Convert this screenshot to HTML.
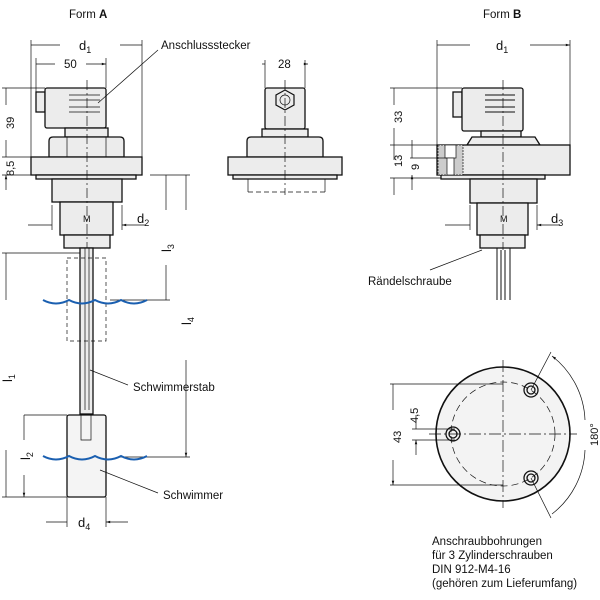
<!DOCTYPE html>
<html><head><style>body{margin:0;background:#fff}svg{display:block}text{font-family:"Liberation Sans",sans-serif;fill:#111}</style></head><body>
<svg width="600" height="600" viewBox="0 0 600 600" xmlns="http://www.w3.org/2000/svg">
<defs><marker id="a" viewBox="0 0 10 10" refX="10" refY="5" markerWidth="8" markerHeight="6" orient="auto-start-reverse"><path d="M0,2L10,5L0,8z" fill="#111"/></marker></defs>
<g stroke="#111" fill="none" stroke-width="0.7">
<!-- Form A -->
<g fill="#ececec" stroke-width="1.3">
<rect x="36" y="92" width="9" height="20"/>
<rect x="45" y="88" width="61" height="40" rx="2"/>
<rect x="65" y="128" width="43" height="9"/>
<path d="M49,157V141Q49,137 53,137H120Q124,137 124,141V157z"/>
<rect x="31" y="157" width="111" height="18"/>
<rect x="36" y="175" width="100" height="4"/>
<rect x="52" y="179" width="70" height="23"/>
<rect x="60" y="202" width="53" height="33"/>
<rect x="64" y="235" width="46" height="13"/>
<rect x="80" y="248" width="13" height="166"/>
<rect x="67" y="415" width="39" height="82" rx="2" fill="#f4f4f4"/>
</g>
<path d="M69,95H100M69,100H100M69,107H100M69,112H100M67,137V157M106,137V157M85,248V410M89,248V410M81,415V440H91V415" />
<rect x="67" y="258" width="39" height="83" stroke-dasharray="4,3"/>
<path d="M87,80V248" stroke-dasharray="10,3,2,3"/>
<!-- Middle view -->
<g fill="#ececec" stroke-width="1.3">
<rect x="265" y="88" width="40" height="41" rx="2"/>
<rect x="262" y="129" width="46" height="8"/>
<path d="M247,157V141Q247,137 251,137H319Q323,137 323,141V157z"/>
<rect x="228" y="157" width="114" height="18"/>
<rect x="233" y="175" width="104" height="4"/>
</g>
<polygon points="285,90 294,95 294,105 285,110 276,105 276,95" stroke-width="1.2"/>
<circle cx="285" cy="100" r="5"/>
<path d="M248,179V192M325,179V192"/>
<path d="M248,192H325" stroke-dasharray="5,3"/>
<path d="M285,80V195" stroke-dasharray="10,3,2,3"/>
<path d="M262,64H265M305,64H308" marker-end="url(#a)"/><path d="M265,60V88M305,60V88"/>
<!-- Form B -->
<g fill="#ececec" stroke-width="1.3">
<rect x="453" y="92" width="9" height="25"/>
<rect x="462" y="88" width="61" height="43" rx="2"/>
<rect x="481" y="131" width="40" height="6"/>
<path d="M467,145L472,137H535L540,145z"/>
<rect x="437" y="145" width="133" height="30"/>
<rect x="441" y="175" width="104" height="4"/>
<rect x="470" y="179" width="67" height="24"/>
<rect x="477" y="203" width="51" height="32"/>
<rect x="480" y="235" width="45" height="13"/>
</g>
<rect x="438" y="145" width="25" height="30" fill="#ccc" stroke-dasharray="2,1"/>
<rect x="445" y="145" width="11" height="13" fill="#fff"/>
<rect x="447" y="158" width="7" height="17" fill="#fff"/>
<path d="M485,95H515M485,100H515M485,107H515M485,112H515M497,248V300M510,248V300M501,250V300M505,250V300" stroke-width="1"/>
<path d="M503,80V250" stroke-dasharray="10,3,2,3"/>
<!-- bottom circle -->
<circle cx="503" cy="434" r="67" fill="#f3f3f3" stroke-width="1.6"/>
<circle cx="503" cy="434" r="52" stroke-dasharray="7,4"/>
<g stroke-width="1.3"><circle cx="453" cy="434" r="7"/><circle cx="453" cy="434" r="4"/><circle cx="531" cy="390" r="7"/><circle cx="531" cy="390" r="4"/><circle cx="531" cy="478" r="7"/><circle cx="531" cy="478" r="4"/></g>
<path d="M429,434H577M503,360V508" stroke-dasharray="12,3,2,3"/>
<path d="M390,384H503M390,485H503M412,429H455M412,440H455"/>
<path d="M393,410V384M393,460V485" marker-end="url(#a)"/>
<path d="M416,415V429M416,455V440" marker-end="url(#a)"/>
<path d="M531,390L551,352M531,478L551,518"/>
<path d="M552,356A85,85 0 0 1 585,420M585,450A85,85 0 0 1 552,514" marker-start="url(#a)"/>
<!-- dims A -->
<path d="M31,40V157M142,40V157M36,58V92M106,58V88"/>
<path d="M60,45H31M120,45H142M55,64H36M86,64H106" marker-end="url(#a)"/>
<path d="M2,88H45M2,157H31M2,175H52M24,415H67M2,497H67M2,253H80M150,175H190" />
<path d="M6,105V88M6,140V157M6,150V157M6,190V175" marker-end="url(#a)"/>
<path d="M6,300V253M6,450V497M24,440V415M24,475V497" marker-end="url(#a)"/>
<path d="M166,210V175M166,265V300M186,210V175M186,360V457" marker-end="url(#a)"/>
<path d="M110,300H170M120,457H190"/>
<path d="M28,225H52M145,225H122" marker-end="url(#a)"/><path d="M52,205V230M122,205V230"/>
<path d="M46,522H67M128,522H106" marker-end="url(#a)"/><path d="M67,497V527M106,497V527"/>
<!-- dims B -->
<path d="M437,40V145M570,40V175"/>
<path d="M470,45H437M530,45H570" marker-end="url(#a)"/>
<path d="M390,88H462M390,145H437M410,158H447M390,178H441"/>
<path d="M394,105V88M394,128V145M394,160V145M394,195V178M412,140V158M412,190V175" marker-end="url(#a)"/>
<path d="M445,225H470M560,225H537" marker-end="url(#a)"/><path d="M470,205V230M537,205V230"/>
<!-- leaders -->
<path d="M98,103L158,50M90,370L128,385M100,470L158,493M482,250L430,270"/>
</g>
<g stroke="#1a5fb0" stroke-width="2" fill="none">
<path d="M43,300q13,7 26,0q13,7 26,0q13,7 26,0q13,7 26,0"/>
<path d="M43,456q13,7 26,0q13,7 26,0q13,7 26,0q13,7 26,0"/>
</g>
<g font-size="11.5">
<text x="69" y="18">Form <tspan font-weight="bold">A</tspan></text>
<text x="483" y="18">Form <tspan font-weight="bold">B</tspan></text>
<text x="161" y="49">Anschlussstecker</text>
<text x="79" y="50" font-size="13">d<tspan font-size="9" dy="3">1</tspan></text>
<text x="496" y="50" font-size="13">d<tspan font-size="9" dy="3">1</tspan></text>
<text x="64" y="68">50</text><text x="278" y="68">28</text>
<text x="137" y="223" font-size="13">d<tspan font-size="9" dy="3">2</tspan></text>
<text x="551" y="223" font-size="13">d<tspan font-size="9" dy="3">3</tspan></text>
<text x="78" y="527" font-size="13">d<tspan font-size="9" dy="3">4</tspan></text>
<text x="83" y="222" font-size="9">M</text><text x="500" y="222" font-size="9">M</text>
<text x="133" y="391">Schwimmerstab</text>
<text x="163" y="499">Schwimmer</text>
<text x="368" y="285">Rändelschraube</text>
<text x="432" y="545">Anschraubbohrungen</text>
<text x="432" y="559">für 3 Zylinderschrauben</text>
<text x="432" y="573">DIN 912-M4-16</text>
<text x="432" y="587">(gehören zum Lieferumfang)</text>
<g font-size="11">
<text transform="translate(14,129) rotate(-90)">39</text>
<text transform="translate(14,176) rotate(-90)">8,5</text>
<text transform="translate(402,123) rotate(-90)">33</text>
<text transform="translate(402,167) rotate(-90)">13</text>
<text transform="translate(419,170) rotate(-90)">9</text>
<text transform="translate(401,443) rotate(-90)">43</text>
<text transform="translate(418,423) rotate(-90)">4,5</text>
<text transform="translate(598,446) rotate(-90)">180°</text>
</g>
<g font-size="13">
<text transform="translate(171,252) rotate(-90)">l<tspan font-size="9" dy="3">3</tspan></text>
<text transform="translate(191,325) rotate(-90)">l<tspan font-size="9" dy="3">4</tspan></text>
<text transform="translate(12,382) rotate(-90)">l<tspan font-size="9" dy="3">1</tspan></text>
<text transform="translate(30,460) rotate(-90)">l<tspan font-size="9" dy="3">2</tspan></text>
</g>
</g>
</svg>
</body></html>
